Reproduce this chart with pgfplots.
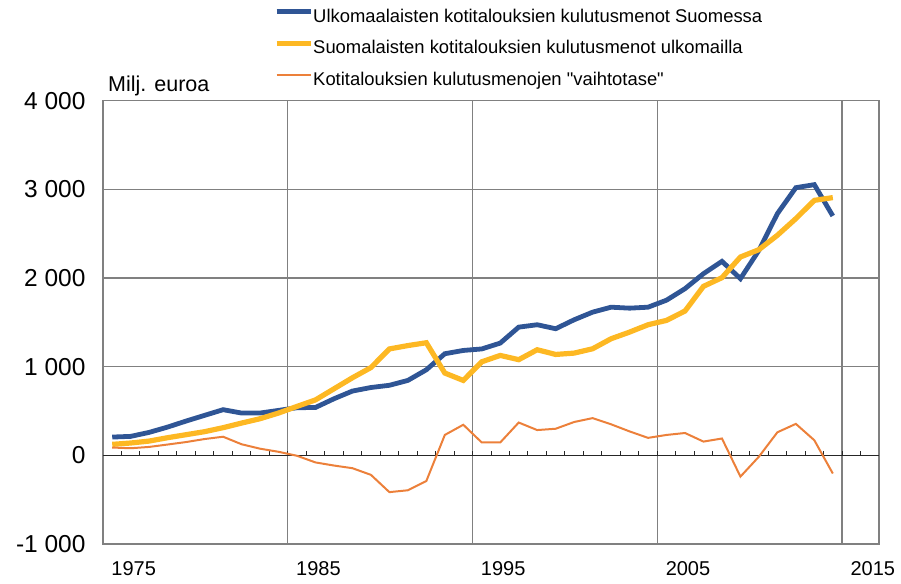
\documentclass[border=0pt]{standalone}
\usepackage{fontspec}
\setmainfont{Liberation Sans}
\usepackage{pgfplots}
\usepackage{pgfplotstable}
\pgfplotsset{compat=1.18}
\definecolor{cblue}{RGB}{47,85,149}
\definecolor{cyel}{RGB}{253,184,35}
\definecolor{corg}{RGB}{236,128,58}
\definecolor{cgrid}{RGB}{128,128,128}
\pgfplotstableread{
year blue yel org
1974 206 124 88
1975 214 139 80
1976 259 161 95
1977 319 199 122
1978 387 233 150
1979 451 267 184
1980 515 312 210
1981 477 364 125
1982 477 413 75
1983 507 477 40
1984 537 552 -5
1985 540 625 -80
1986 638 750 -115
1987 725 875 -145
1988 765 990 -220
1989 790 1200 -415
1990 845 1238 -394
1991 965 1270 -290
1992 1146 928 230
1993 1183 845 345
1994 1200 1055 145
1995 1266 1127 145
1996 1446 1079 370
1997 1473 1191 285
1998 1428 1138 300
1999 1529 1153 376
2000 1615 1202 420
2001 1671 1315 350
2002 1660 1390 270
2003 1671 1473 197
2004 1750 1522 230
2005 1880 1628 252
2006 2049 1906 155
2007 2188 2004 190
2008 1993 2237 -240
2009 2312 2320 -15
2010 2726 2482 260
2011 3019 2670 355
2012 3053 2876 170
2013 2700 2907 -205
}\datatable
\begin{document}
\begin{tikzpicture}
\useasboundingbox (0,0) rectangle (901bp,584bp);
\begin{axis}[
  at={(103bp,40bp)}, anchor=south west,
  scale only axis, width=776bp, height=443.3bp,
  xmin=1973.5, xmax=2015.5, ymin=-1000, ymax=4000,
  axis line style={cgrid, line width=1.4bp},
  xtick={1983.5,1993.5,2003.5,2013.5}, xticklabels={},
  xmajorgrids, ymajorgrids,
  grid style={cgrid, line width=1.4bp},
  major tick length=0pt,
  extra x ticks={1975,1985,1995,2005,2015},
  extra x tick labels={1975,1985,1995,2005,2015},
  extra x tick style={grid=none, major tick length=0pt},
  ytick={-1000,0,1000,2000,3000,4000},
  yticklabels={-1 000,0,1 000,2 000,3 000,4 000},
  yticklabel style={font=\fontsize{24.5bp}{28bp}\selectfont, anchor=east, xshift=-14bp},
  xticklabel style={font=\fontsize{20bp}{24bp}\selectfont, anchor=north, yshift=-14bp, xshift=3bp},
  legend style={draw=none, fill=none, at={(axis description cs:0.2204,1.207)}, anchor=north west,
    inner sep=0pt, outer sep=0pt, row sep=14bp, column sep=0bp,
    font=\fontsize{18.4bp}{22bp}\selectfont,
    nodes={inner sep=0pt, text height=13.5bp, text depth=4bp}},
  legend cell align=left,
  legend image code/.code={\draw[#1, line cap=butt] (0bp,6bp) -- (34bp,6bp);},
]
\draw[black!85, line width=1.2bp] (axis cs:1973.5,0) -- (axis cs:2015.5,0);
\pgfplotsinvokeforeach{1974,...,2014}{\draw[black!85, line width=1bp] (axis cs:#1.5,0) -- ++(0bp,4.5bp);}
\addplot[cblue, line width=4.8bp] table[x=year, y=blue] {\datatable};
\addlegendentry{Ulkomaalaisten kotitalouksien kulutusmenot Suomessa}
\addplot[cyel, line width=5.2bp] table[x=year, y=yel] {\datatable};
\addlegendentry{Suomalaisten kotitalouksien kulutusmenot ulkomailla}
\addplot[corg, line width=2bp] table[x=year, y=org] {\datatable};
\addlegendentry{Kotitalouksien kulutusmenojen \textquotedbl vaihtotase\textquotedbl}
\end{axis}
\node[anchor=base west, inner sep=0pt, font=\fontsize{21.5bp}{25bp}\selectfont] at (108bp,492.5bp) {Milj. euroa};
\end{tikzpicture}
\end{document}
